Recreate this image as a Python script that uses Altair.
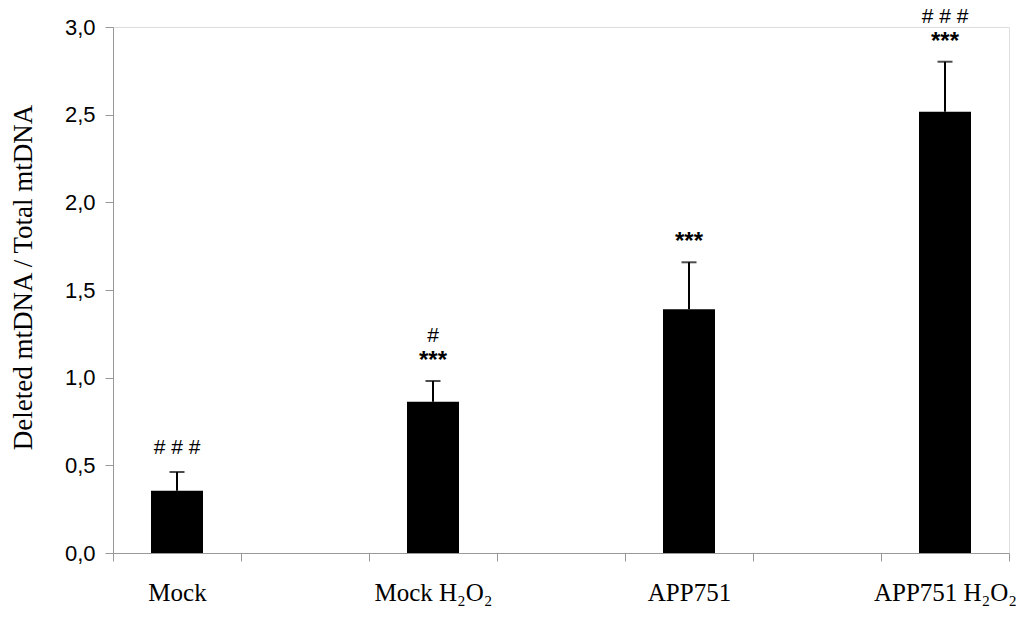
import altair as alt
import pandas as pd

# Category slots on the x axis (blank slots separate the groups, as in the original)
slots = ["Mock", " ", "Mock H₂O₂", "  ", "APP751", "   ", "APP751 H₂O₂"]
groups = ["Mock", "Mock H₂O₂", "APP751", "APP751 H₂O₂"]
means = [0.355, 0.863, 1.39, 2.517]
upper = [0.462, 0.981, 1.658, 2.802]
stars = ["", "***", "***", "***"]
hashes = ["# # #", "#", "", "# # #"]

df = pd.DataFrame({"group": groups, "mean": means, "upper": upper,
                   "stars": stars, "hashes": hashes})

x_enc = alt.X("group:N", scale=alt.Scale(domain=slots, paddingInner=0, paddingOuter=0),
              axis=alt.Axis(title=None, labelAngle=0, tickBand="extent",
                            labelFont="Liberation Serif", labelFontSize=25,
                            labelColor="black", labelPadding=19,
                            tickSize=8, tickColor="#999999", domainColor="#999999",
                            labelFlush=False))

y_scale = alt.Scale(domain=[0, 3], nice=False)
y_axis = alt.Axis(values=[0, 0.5, 1.0, 1.5, 2.0, 2.5, 3.0],
                  labelExpr="replace(format(datum.value, '.1f'), '.', ',')",
                  title="Deleted mtDNA / Total mtDNA",
                  titleFont="Liberation Serif", titleFontSize=27, titleFontWeight="normal",
                  titleColor="black", titlePadding=27, titleY=250,
                  labelFont="Liberation Sans", labelFontSize=22, labelColor="black",
                  labelPadding=10, tickSize=8, tickColor="#999999",
                  domainColor="#999999", grid=False)

base = alt.Chart(df)

bars = base.mark_bar(size=52, color="black").encode(
    x=x_enc,
    y=alt.Y("mean:Q", scale=y_scale, axis=y_axis),
)

err_rule = base.mark_rule(color="black", strokeWidth=2).encode(
    x=alt.X("group:N"),
    y=alt.Y("mean:Q"),
    y2="upper:Q",
)

err_cap = base.mark_tick(color="black", thickness=2, size=15).encode(
    x=alt.X("group:N"),
    y=alt.Y("upper:Q"),
)

star_txt = base.mark_text(font="Liberation Sans", fontSize=24, fontWeight="bold",
                          baseline="middle", dy=-20, color="black").encode(
    x=alt.X("group:N"), y=alt.Y("upper:Q"), text="stars:N")

hash_low = base.transform_filter("datum.stars == ''").mark_text(
    font="Liberation Sans", fontSize=21, baseline="middle", dy=-24, color="black").encode(
    x=alt.X("group:N"), y=alt.Y("upper:Q"), text="hashes:N")

hash_high = base.transform_filter("datum.stars != ''").mark_text(
    font="Liberation Sans", fontSize=21, baseline="middle", dy=-45, color="black").encode(
    x=alt.X("group:N"), y=alt.Y("upper:Q"), text="hashes:N")

chart = alt.layer(bars, err_rule, err_cap, star_txt, hash_low, hash_high).properties(
    width=896, height=526,
    autosize=alt.AutoSizeParams(type="none"),
    padding={"left": 105, "top": 19, "right": 7, "bottom": 56},
).configure_view(stroke=None).configure(background="white")

chart.save("out.html", embed_options={"renderer": "svg", "actions": False})
